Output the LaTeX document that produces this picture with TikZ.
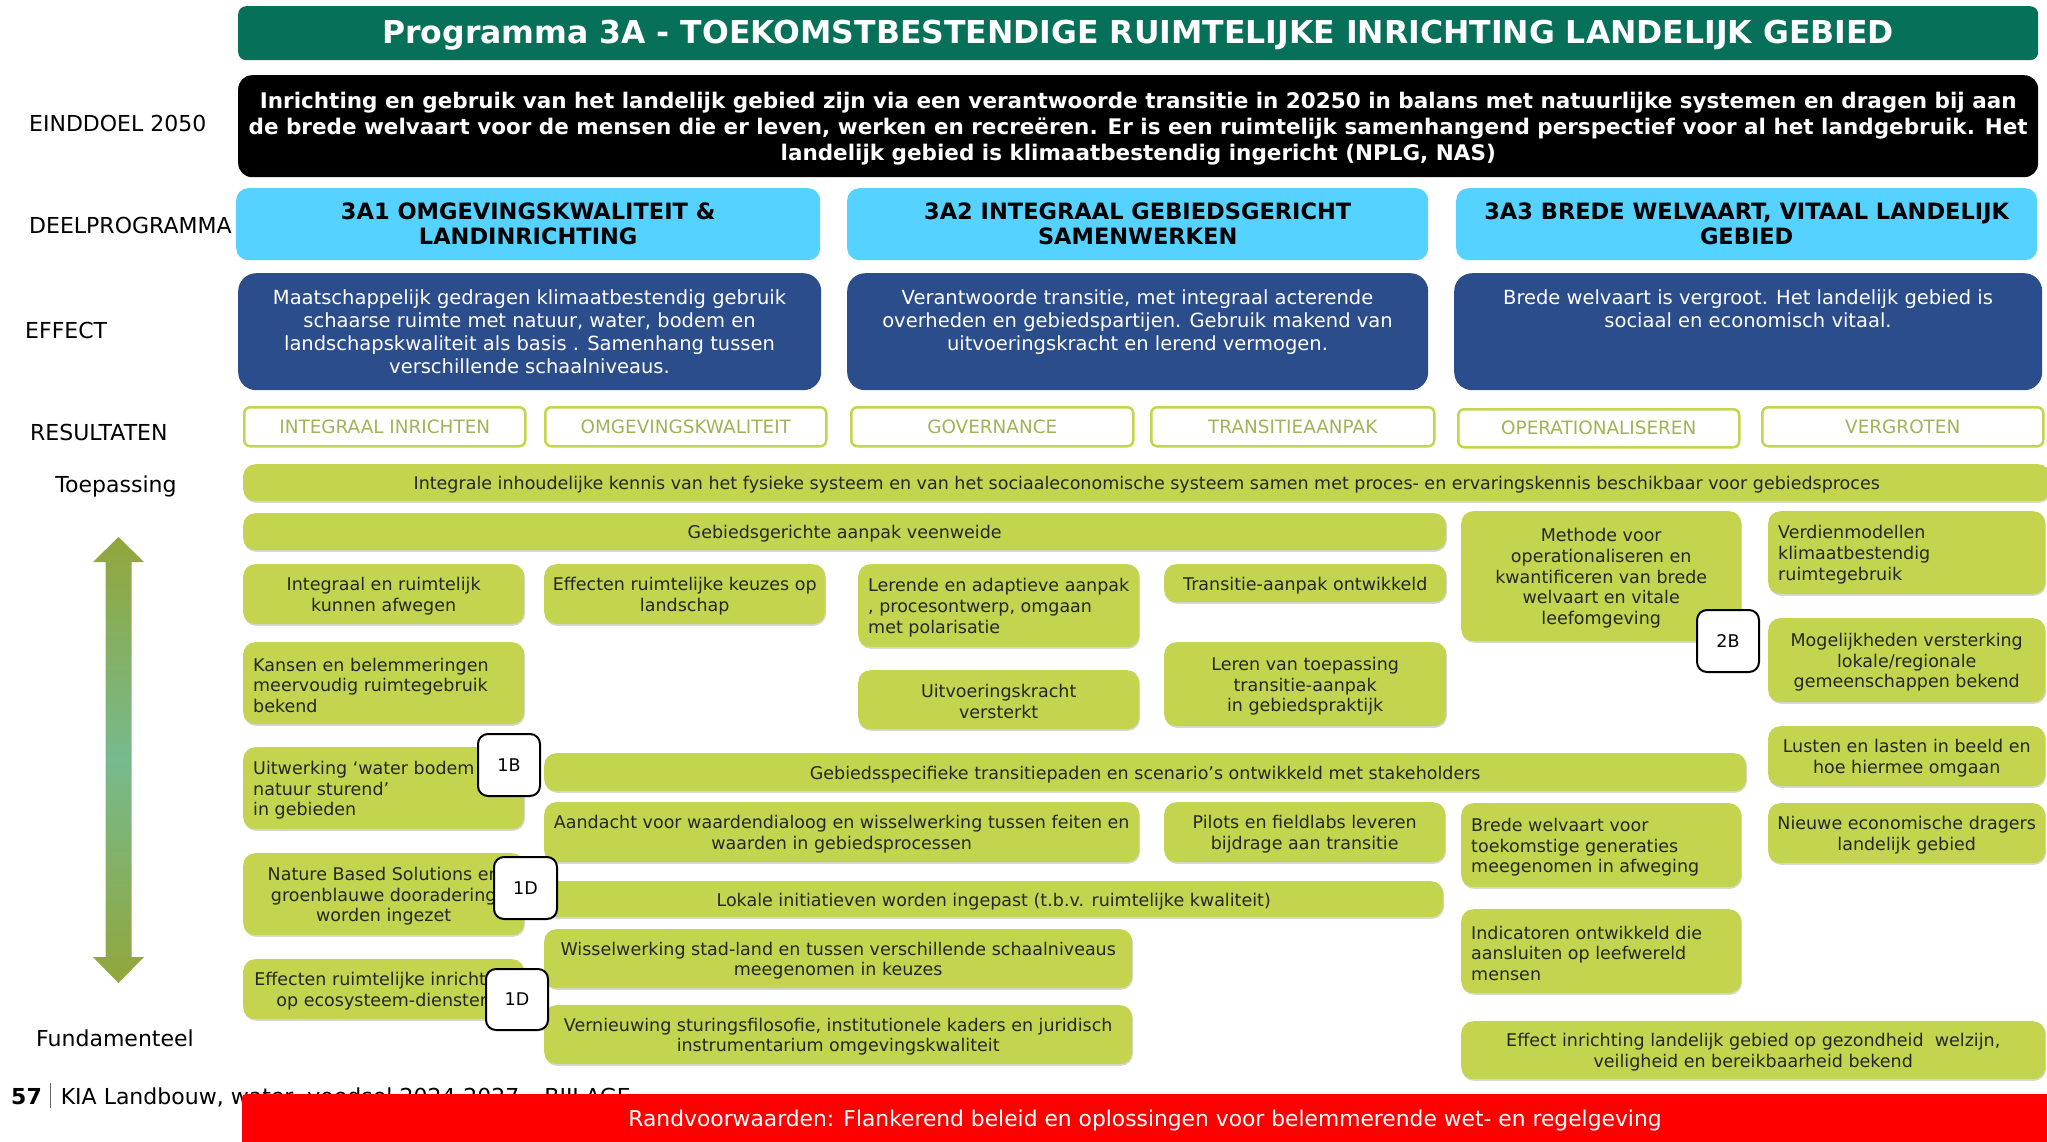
\documentclass[tikz,border=0pt]{standalone}
\usepackage{fontspec}
\setmainfont{DejaVu Sans}
\usetikzlibrary{shadows}
\definecolor{cTitle}{HTML}{077058}
\definecolor{cCyan}{HTML}{55D2FF}
\definecolor{cBlue}{HTML}{2C4D8C}
\definecolor{cLime}{HTML}{C5D44E}
\definecolor{cResTxt}{HTML}{A4B255}
\definecolor{cTxt}{HTML}{262626}
\definecolor{cArrEnd}{HTML}{92A63A}
\definecolor{cArrMid}{HTML}{76BA8E}
\definecolor{cRed}{HTML}{FF0000}
\newcommand\fsG{\fontsize{17.5}{20.7}\selectfont}
\newcommand\rbox[6][]{%
  \pgfmathsetmacro\bw{#4-#2}\pgfmathsetmacro\bh{#5-#3}%
  \node[#1,anchor=north west,minimum width=\bw pt,minimum height=\bh pt] (#6) at (#2,#3) {};}
\newcommand\gbox[7][c]{%
  \rbox[gbx]{#2}{#3}{#4}{#5}{#6}%
  \if#1l\node[gtxt,align=left,anchor=west] (#6t) at ([xshift=10pt,yshift=-2pt]#6.west) {#7};%
  \else\node[gtxt,align=center] (#6t) at ([yshift=-2pt]#6.center) {#7};\fi}
\begin{document}
\begin{tikzpicture}[x=1pt,y=-1pt,
  softshadow/.style={drop shadow={shadow xshift=0.8pt,shadow yshift=-1.6pt,fill=black!35,opacity=0.45}},
  gbx/.style={fill=cLime,rounded corners=12pt,inner sep=0pt,softshadow},
  gtxt/.style={inner sep=0pt,font=\fsG,text=cTxt},
  resbox/.style={fill=white,draw=cLime,line width=2.5pt,rounded corners=6pt,inner sep=0pt,font=\fontsize{18.4}{20}\selectfont,text=cResTxt},
  restxt/.style={inner sep=0pt,font=\fontsize{18.4}{20}\selectfont,text=cResTxt},
  badge/.style={fill=white,draw=black,line width=2pt,rounded corners=10pt,inner sep=0pt},
  bdgtxt/.style={inner sep=0pt,font=\fontsize{17.5}{20}\selectfont},
  cyanbox/.style={fill=cCyan,rounded corners=12pt},
  bluebox/.style={fill=cBlue,rounded corners=18pt},
  sidelbl/.style={anchor=west,inner sep=0pt,font=\fontsize{22}{25}\selectfont,text=black},
  btxt/.style={anchor=north,inner sep=0pt,align=center,text=white,font=\fontsize{19.5}{23.3}\selectfont},
  ctxt/.style={inner sep=0pt,align=center,text=black,font=\bfseries\fontsize{22.5}{25}\selectfont}]
\useasboundingbox (0,0) rectangle (2047,1141);
\clip (0,0) rectangle (2047,1141);

% title
\rbox[fill=cTitle,rounded corners=8pt]{238}{6}{2038}{60}{titlebar}
\node[text=white,inner sep=0pt,font=\bfseries\fontsize{31.5}{34}\selectfont] (titletxt) at ([yshift=-2pt]titlebar.center) {Programma 3A - TOEKOMSTBESTENDIGE RUIMTELIJKE INRICHTING LANDELIJK GEBIED};

% einddoel
\rbox[fill=black,rounded corners=14pt]{238}{75}{2038}{177}{goalbox}
\node[text=white,inner sep=0pt,align=center,font=\bfseries\fontsize{21.5}{26}\selectfont] (goaltxt) at ([yshift=-2.5pt]goalbox.center) {Inrichting en gebruik van het landelijk gebied zijn via een verantwoorde transitie in 20250 in balans met natuurlijke systemen en dragen bij aan\\de brede welvaart voor de mensen die er leven, werken en recreëren. Er is een ruimtelijk samenhangend perspectief voor al het landgebruik. Het\\landelijk gebied is klimaatbestendig ingericht (NPLG, NAS)};

% side labels
\node[sidelbl] (lEind) at (29,123) {EINDDOEL 2050};
\node[sidelbl] (lDeel) at (29,225) {DEELPROGRAMMA};
\node[sidelbl] (lEff) at (25,330) {EFFECT};
\node[sidelbl] (lRes) at (30,432) {RESULTATEN};
\node[sidelbl,anchor=center] (lToep) at (116,486) {Toepassing};
\node[sidelbl,anchor=center] (lFund) at (115,1038) {Fundamenteel};

% deelprogramma
\rbox[cyanbox]{236}{188}{820}{260}{c1}
\rbox[cyanbox]{847}{188}{1428}{260}{c2}
\rbox[cyanbox]{1456}{188}{2037}{260}{c3}
\node[ctxt] (c1t) at (c1.center) {3A1 OMGEVINGSKWALITEIT \&\\LANDINRICHTING};
\node[ctxt] (c2t) at (c2.center) {3A2 INTEGRAAL GEBIEDSGERICHT\\SAMENWERKEN};
\node[ctxt] (c3t) at (c3.center) {3A3 BREDE WELVAART, VITAAL LANDELIJK\\GEBIED};

% effect
\rbox[bluebox]{238}{273}{821}{390}{e1}
\rbox[bluebox]{847}{273}{1428}{390}{e2}
\rbox[bluebox]{1454}{273}{2042}{390}{e3}
\node[btxt] (e1t) at (529.5,289) {Maatschappelijk gedragen klimaatbestendig gebruik\\schaarse ruimte met natuur, water, bodem en\\landschapskwaliteit als basis . Samenhang tussen\\verschillende schaalniveaus.};
\node[btxt] (e2t) at (1137.5,289) {Verantwoorde transitie, met integraal acterende\\overheden en gebiedspartijen. Gebruik makend van\\uitvoeringskracht en lerend vermogen.};
\node[btxt] (e3t) at (1748,289) {Brede welvaart is vergroot. Het landelijk gebied is\\sociaal en economisch vitaal.};

% resultaten
\rbox[resbox]{243}{406}{524}{445}{r1}
\rbox[resbox]{544}{406}{825}{445}{r2}
\rbox[resbox]{850}{406}{1132}{445}{r3}
\rbox[resbox]{1150}{406}{1433}{445}{r4}
\rbox[resbox]{1457}{408}{1738}{446}{r5}
\rbox[resbox]{1761}{406}{2042}{445}{r6}
\node[restxt] (r1t) at (r1.center) {INTEGRAAL INRICHTEN};
\node[restxt] (r2t) at (r2.center) {OMGEVINGSKWALITEIT};
\node[restxt] (r3t) at (r3.center) {GOVERNANCE};
\node[restxt] (r4t) at (r4.center) {TRANSITIEAANPAK};
\node[restxt] (r5t) at (r5.center) {OPERATIONALISEREN};
\node[restxt] (r6t) at (r6.center) {VERGROTEN};

% arrow
\shade[top color=cArrEnd,bottom color=cArrEnd,middle color=cArrMid]
  (118.5,537) -- (144,562) -- (131.5,562) -- (131.5,957) -- (144,957) -- (118.5,983)
  -- (93,957) -- (105.5,957) -- (105.5,562) -- (93,562) -- cycle;

% green boxes
\gbox{243}{464}{2050}{501}{kennis}{Integrale inhoudelijke kennis van het fysieke systeem en van het sociaaleconomische systeem samen met proces- en ervaringskennis beschikbaar voor gebiedsproces}
\gbox{243}{513}{1446}{550}{veenweide}{Gebiedsgerichte aanpak veenweide}
\gbox{1461}{511}{1741}{641}{methode}{Methode voor\\operationaliseren en\\kwantificeren van brede\\welvaart en vitale\\leefomgeving}
\gbox[l]{1768}{511}{2045}{594}{verdien}{Verdienmodellen\\klimaatbestendig\\ruimtegebruik}
\gbox{243}{564}{524}{624}{integraal}{Integraal en ruimtelijk\\kunnen afwegen}
\gbox{544}{564}{825}{624}{effland}{Effecten ruimtelijke keuzes op\\landschap}
\gbox[l]{858}{564}{1139}{647}{lerende}{Lerende en adaptieve aanpak\\, procesontwerp, omgaan\\met polarisatie}
\gbox{1164}{564}{1446}{602}{transitie}{Transitie-aanpak ontwikkeld}
\gbox{1768}{618}{2045}{702}{mogelijk}{Mogelijkheden versterking\\lokale/regionale\\gemeenschappen bekend}
\gbox[l]{243}{642}{524}{724}{kansen}{Kansen en belemmeringen\\meervoudig ruimtegebruik\\bekend}
\gbox{858}{670}{1139}{729}{uitvoering}{Uitvoeringskracht\\versterkt}
\gbox{1164}{642}{1446}{726}{leren}{Leren van toepassing\\transitie-aanpak\\in gebiedspraktijk}
\gbox{1768}{726}{2045}{786}{lusten}{Lusten en lasten in beeld en\\hoe hiermee omgaan}
\gbox[l]{243}{747}{524}{829}{uitwerking}{Uitwerking ‘water bodem\\natuur sturend’\\in gebieden}
\gbox{544}{753}{1746}{791}{gebiedsspec}{Gebiedsspecifieke transitiepaden en scenario’s ontwikkeld met stakeholders}
\gbox{544}{802}{1139}{862}{aandacht}{Aandacht voor waardendialoog en wisselwerking tussen feiten en\\waarden in gebiedsprocessen}
\gbox{1164}{802}{1445}{862}{pilots}{Pilots en fieldlabs leveren\\bijdrage aan transitie}
\gbox[l]{1461}{803}{1741}{887}{bredew}{Brede welvaart voor\\toekomstige generaties\\meegenomen in afweging}
\gbox{1768}{803}{2045}{863}{nieuwe}{Nieuwe economische dragers\\landelijk gebied}
\gbox{243}{853}{524}{935}{nature}{Nature Based Solutions en\\groenblauwe dooradering\\worden ingezet}
\gbox{544}{881}{1443}{917}{lokale}{Lokale initiatieven worden ingepast (t.b.v. ruimtelijke kwaliteit)}
\gbox[l]{1461}{909}{1741}{993}{indicatoren}{Indicatoren ontwikkeld die\\aansluiten op leefwereld\\mensen}
\gbox{544}{929}{1132}{988}{wissel}{Wisselwerking stad-land en tussen verschillende schaalniveaus\\meegenomen in keuzes}
\gbox{243}{959}{524}{1019}{effeco}{Effecten ruimtelijke inrichting\\op ecosysteem-diensten}
\gbox{544}{1005}{1132}{1064}{vernieuwing}{Vernieuwing sturingsfilosofie, institutionele kaders en juridisch\\instrumentarium omgevingskwaliteit}
\gbox{1461}{1021}{2045}{1079}{effinr}{Effect inrichting landelijk gebied op gezondheid\ \ welzijn,\\veiligheid en bereikbaarheid bekend}

% badges
\rbox[badge]{477}{733}{539}{795}{b1B}
\rbox[badge]{493}{856}{556}{918}{b1Da}
\rbox[badge]{485}{968}{547}{1029}{b1Db}
\rbox[badge]{1696}{609}{1758}{671}{b2B}
\node[bdgtxt] (b1Bt) at (b1B.center) {1B};
\node[bdgtxt] (b1Dat) at (b1Da.center) {1D};
\node[bdgtxt] (b1Dbt) at (b1Db.center) {1D};
\node[bdgtxt] (b2Bt) at (b2B.center) {2B};

% footer
\node[anchor=base west,inner sep=0pt,font=\fontsize{22}{25}\selectfont] (footer) at (11,1104)
  {\textbf{57}\hspace{8pt}{\color{black!60}\rule[-4pt]{1pt}{25pt}}\hspace{10pt}KIA Landbouw, water, voedsel 2024-2027 – BIJLAGE};

% randvoorwaarden
\rbox[fill=cRed,rounded corners=3pt]{242}{1094}{2055}{1150}{redbar}
\node[text=white,inner sep=0pt,font=\fontsize{21.8}{24}\selectfont] (redtxt) at (1145,1120) {Randvoorwaarden: Flankerend beleid en oplossingen voor belemmerende wet- en regelgeving};
\end{tikzpicture}
\end{document}
